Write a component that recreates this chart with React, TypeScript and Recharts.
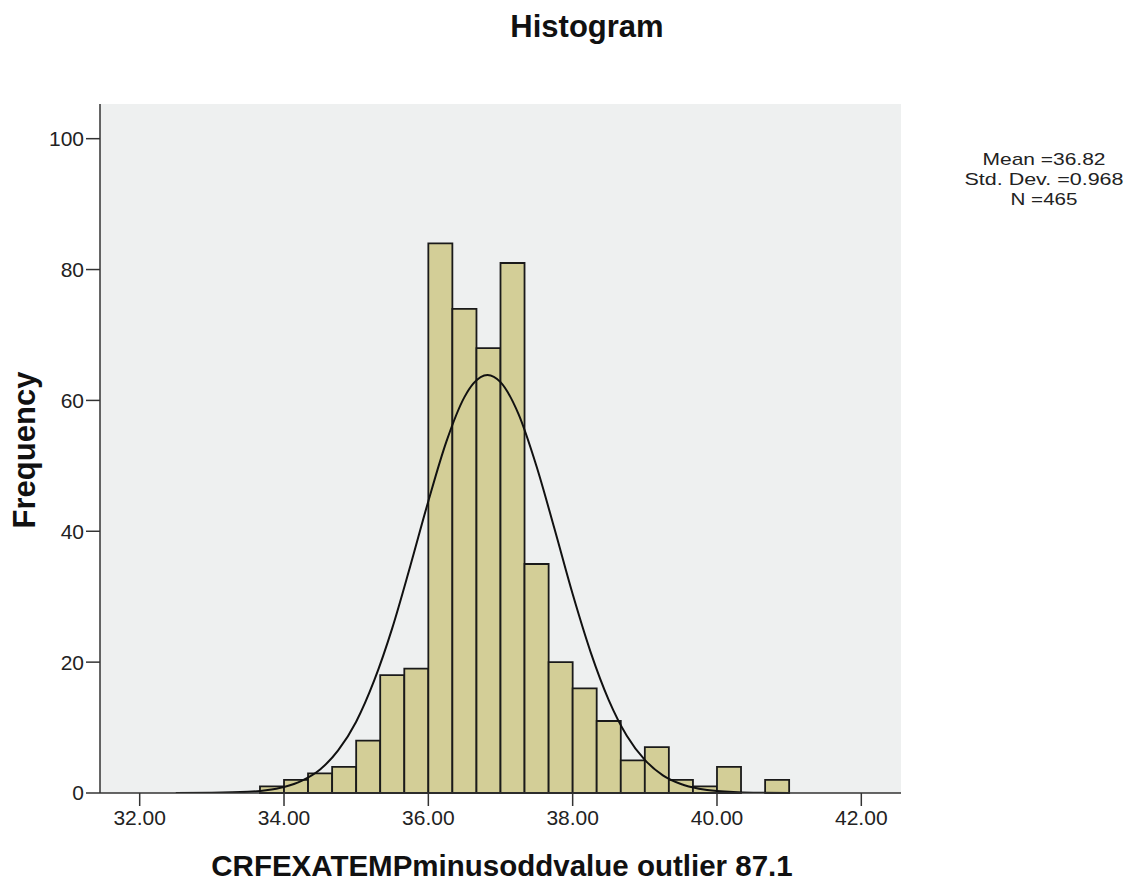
import React from 'react';
import { ComposedChart, Line, XAxis, YAxis, CartesianGrid, ReferenceArea } from 'recharts';

// histogram bins: edges (width 1/3) and counts
const binEdges = [
  33.667, 34.0, 34.333, 34.667, 35.0, 35.333, 35.667, 36.0, 36.333, 36.667, 37.0, 37.333,
  37.667, 38.0, 38.333, 38.667, 39.0, 39.333, 39.667, 40.0, 40.333, 40.667, 41.0,
];
const binCounts = [1, 2, 3, 4, 8, 18, 19, 84, 74, 68, 81, 35, 20, 16, 11, 5, 7, 2, 1, 4, 0, 2];

// normal curve
const curveX = [
  32.5, 33.0, 33.5, 33.75, 34.0, 34.25, 34.5, 34.75, 35.0, 35.25, 35.5, 35.75, 36.0, 36.25, 36.5,
  36.625, 36.82, 37.0, 37.25, 37.5, 37.75, 38.0, 38.25, 38.5, 38.75, 39.0, 39.25, 39.5, 39.75, 40.0,
  40.5, 41.0,
];
const curveY = [
  0, 0.03, 0.18, 0.42, 0.92, 1.9, 3.6, 6.5, 10.9, 17.2, 25.2, 34.7, 44.6, 53.7, 60.5,
  62.6, 63.9, 62.8, 57.9, 49.9, 40.3, 30.4, 21.5, 14.2, 8.75, 5.06, 2.7, 1.38, 0.66, 0.29,
  0.04, 0,
];

const xTicks = [32, 34, 36, 38, 40, 42];
const yTicks = [0, 20, 40, 60, 80, 100];
const statLines = ['Mean =36.82', 'Std. Dev. =0.968', 'N =465'];
const statWidths = [123, 159, 67];

const FONT = '"Liberation Sans", Arial, sans-serif';
const AXIS = '#333';

const curveData = curveX.map((x, i) => ({ x, y: curveY[i] }));
const bins = binCounts
  .map((count, i) => ({ lo: binEdges[i], hi: binEdges[i + 1], count }))
  .filter((b) => b.count > 0);

export default function App() {
  const tick = { fill: '#222', fontSize: 21, fontFamily: FONT };
  return (
    <div style={{ position: 'absolute', left: 0, top: 0, width: 1134, height: 886, background: '#fff' }}>
      <ComposedChart
        width={1134}
        height={886}
        data={curveData}
        margin={{ top: 104, right: 233, bottom: 53, left: 40 }}
      >
        <CartesianGrid horizontal={false} vertical={false} fill="#eef0f0" />
        <XAxis
          dataKey="x"
          type="number"
          domain={[31.45, 42.55]}
          ticks={xTicks}
          tickFormatter={(v) => v.toFixed(2)}
          allowDataOverflow
          height={40}
          tickSize={13}
          tickMargin={4}
          tick={tick}
          axisLine={{ stroke: AXIS, strokeWidth: 1.5 }}
          tickLine={{ stroke: AXIS, strokeWidth: 1.5 }}
        />
        <XAxis
          xAxisId="top"
          orientation="top"
          type="number"
          domain={[31.45, 42.55]}
          allowDataOverflow
          height={0}
          tick={false}
          tickLine={false}
          axisLine={{ stroke: AXIS, strokeWidth: 1.5 }}
        />
        <YAxis
          type="number"
          domain={[0, 105.3]}
          ticks={yTicks}
          allowDataOverflow
          width={60}
          tickSize={14}
          tickMargin={2}
          tick={tick}
          axisLine={{ stroke: AXIS, strokeWidth: 1.5 }}
          tickLine={{ stroke: AXIS, strokeWidth: 1.5 }}
        />
        <YAxis
          yAxisId="right"
          orientation="right"
          domain={[0, 105.3]}
          width={0}
          tick={false}
          tickLine={false}
          axisLine={{ stroke: AXIS, strokeWidth: 1.5 }}
        />
        {bins.map((b) => (
          <ReferenceArea
            key={b.lo}
            x1={b.lo}
            x2={b.hi}
            y1={0}
            y2={b.count}
            fill="#d3ce97"
            fillOpacity={1}
            stroke="#1a1a1a"
            strokeWidth={1.8}
            ifOverflow="visible"
          />
        ))}
        <Line
          type="monotone"
          dataKey="y"
          stroke="#111"
          strokeWidth={2}
          dot={false}
          activeDot={false}
          isAnimationActive={false}
        />
      </ComposedChart>
      <svg
        width={1134}
        height={886}
        style={{ position: 'absolute', left: 0, top: 0, pointerEvents: 'none' }}
        fontFamily={FONT}
      >
        <text x={587} y={37} textAnchor="middle" fontSize={31} fontWeight="bold" fill="#111">
          Histogram
        </text>
        <text x={502} y={876} textAnchor="middle" fontSize={29.5} fontWeight="bold" fill="#111">
          CRFEXATEMPminusoddvalue outlier 87.1
        </text>
        <text
          x={35}
          y={450}
          textAnchor="middle"
          fontSize={31}
          fontWeight="bold"
          fill="#111"
          transform="rotate(-90 35 450)"
        >
          Frequency
        </text>
        {statLines.map((s, i) => (
          <text
            key={s}
            x={1044}
            y={165 + i * 20}
            textAnchor="middle"
            fontSize={17}
            textLength={statWidths[i]}
            lengthAdjust="spacingAndGlyphs"
            fill="#222"
          >
            {s}
          </text>
        ))}
      </svg>
    </div>
  );
}
